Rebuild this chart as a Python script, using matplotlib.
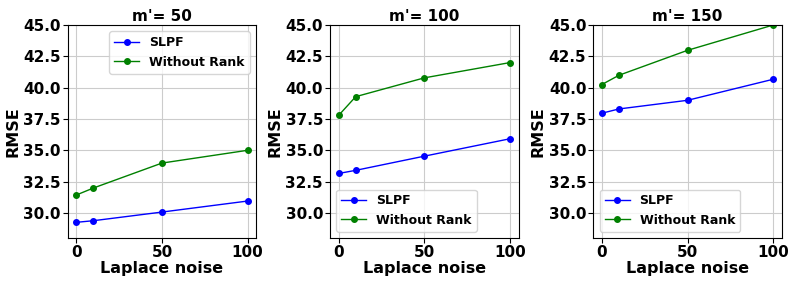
import numpy as np
import matplotlib
matplotlib.use('Agg')
import matplotlib.pyplot as plt

# Laplace noise levels
noise = [0, 10, 50, 100]

# RMSE per m' setting
titles = ["m'= 50", "m'= 100", "m'= 150"]
slpf = [[29.25, 29.38, 30.07, 30.95],
        [33.15, 33.40, 34.53, 35.92],
        [37.96, 38.30, 38.99, 40.67]]
without_rank = [[31.43, 31.99, 33.98, 35.0],
                [37.78, 39.28, 40.78, 42.0],
                [40.25, 40.99, 42.98, 45.0]]
legend_locs = ['upper right', 'lower left', 'lower left']

plt.rcParams['font.weight'] = 'bold'
plt.rcParams['axes.labelweight'] = 'bold'
plt.rcParams['axes.titleweight'] = 'bold'

fig = plt.figure(figsize=(7.97, 2.85), dpi=100)
W, H = 797, 285
lefts = [67.7, 330, 593.3]
width = 188.5
top, bottom = 25, 238

for i in range(3):
    ax = fig.add_axes([lefts[i] / W, 1 - bottom / H, width / W, (bottom - top) / H])
    ax.plot(noise, slpf[i], color='blue', marker='o', markersize=4, linewidth=1, label='SLPF')
    ax.plot(noise, without_rank[i], color='green', marker='o', markersize=4, linewidth=1, label='Without Rank')
    ax.set_ylim(28.0, 45.0)
    ax.set_yticks([30.0, 32.5, 35.0, 37.5, 40.0, 42.5, 45.0])
    ax.set_xticks([0, 50, 100])
    ax.tick_params(labelsize=11, pad=1.5)
    ax.grid(True, color='#cccccc', linewidth=0.8)
    ax.set_xlabel('Laplace noise', fontsize=11.5, labelpad=1)
    ax.set_ylabel('RMSE', fontsize=11.5, labelpad=2)
    ax.set_title(titles[i], fontsize=11, pad=3)
    ax.legend(loc=legend_locs[i], fontsize=9)

plt.savefig('out.png', dpi=100)
